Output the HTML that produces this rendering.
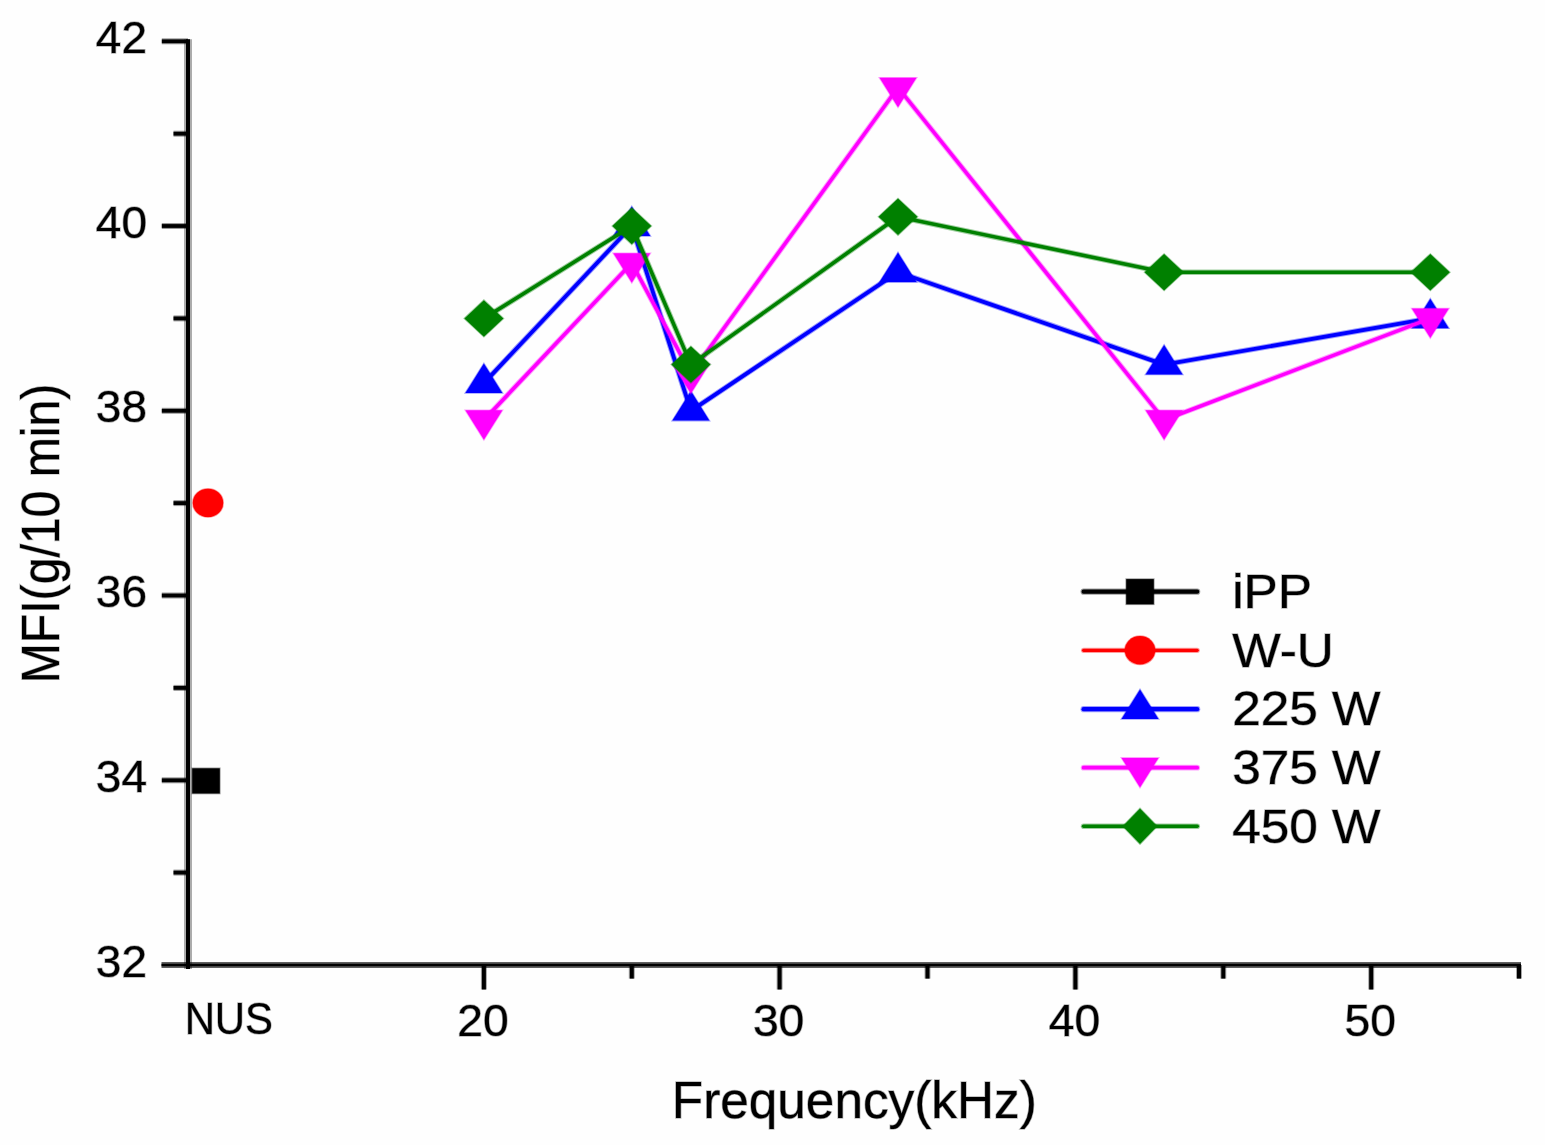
<!DOCTYPE html>
<html><head><meta charset="utf-8"><title>MFI vs Frequency</title>
<style>
html,body{margin:0;padding:0;background:#fefefe;}
body{width:1545px;height:1145px;overflow:hidden;}
svg{display:block;}
text{font-family:"Liberation Sans",Arial,sans-serif;fill:#000;stroke:#000;stroke-opacity:0.3;stroke-width:1.4px;paint-order:stroke;}
.m{stroke-width:1.6px;stroke-opacity:0.38;paint-order:stroke;stroke-linejoin:miter;}
</style></head><body>
<svg width="1545" height="1145" viewBox="0 0 1545 1145">
<rect x="0" y="0" width="1545" height="1145" fill="#fefefe"/>

<polyline points="483.9,383.1 631.8,226.0 690.9,410.8 898.0,272.2 1164.1,364.6 1430.3,318.4" fill="none" stroke="#0000ff" stroke-width="5.8" stroke-opacity="0.38" stroke-linejoin="round"/>
<polyline points="483.9,383.1 631.8,226.0 690.9,410.8 898.0,272.2 1164.1,364.6 1430.3,318.4" fill="none" stroke="#0000ff" stroke-width="3.8" stroke-linejoin="round"/>
<polygon class="m" points="465.4,392.9 502.4,392.9 483.9,363.4" fill="#0000ff" stroke="#0000ff"/>
<polygon class="m" points="613.3,235.9 650.3,235.9 631.8,206.4" fill="#0000ff" stroke="#0000ff"/>
<polygon class="m" points="672.4,420.6 709.4,420.6 690.9,391.1" fill="#0000ff" stroke="#0000ff"/>
<polygon class="m" points="879.5,282.1 916.5,282.1 898.0,252.6" fill="#0000ff" stroke="#0000ff"/>
<polygon class="m" points="1145.6,374.4 1182.6,374.4 1164.1,344.9" fill="#0000ff" stroke="#0000ff"/>
<polygon class="m" points="1411.8,328.2 1448.8,328.2 1430.3,298.7" fill="#0000ff" stroke="#0000ff"/>
<polyline points="483.9,420.0 631.8,263.0 690.9,373.8 898.0,87.5 1164.1,420.0 1430.3,318.4" fill="none" stroke="#ff00ff" stroke-width="5.6" stroke-opacity="0.38" stroke-linejoin="round"/>
<polyline points="483.9,420.0 631.8,263.0 690.9,373.8 898.0,87.5 1164.1,420.0 1430.3,318.4" fill="none" stroke="#ff00ff" stroke-width="3.6" stroke-linejoin="round"/>
<polygon class="m" points="465.4,410.2 502.4,410.2 483.9,439.7" fill="#ff00ff" stroke="#ff00ff"/>
<polygon class="m" points="613.3,253.2 650.3,253.2 631.8,282.7" fill="#ff00ff" stroke="#ff00ff"/>
<polygon class="m" points="672.4,364.0 709.4,364.0 690.9,393.5" fill="#ff00ff" stroke="#ff00ff"/>
<polygon class="m" points="879.5,77.7 916.5,77.7 898.0,107.2" fill="#ff00ff" stroke="#ff00ff"/>
<polygon class="m" points="1145.6,410.2 1182.6,410.2 1164.1,439.7" fill="#ff00ff" stroke="#ff00ff"/>
<polygon class="m" points="1411.8,308.6 1448.8,308.6 1430.3,338.1" fill="#ff00ff" stroke="#ff00ff"/>
<polyline points="483.9,318.4 631.8,226.0 690.9,364.6 898.0,216.8 1164.1,272.2 1430.3,272.2" fill="none" stroke="#008000" stroke-width="5.6" stroke-opacity="0.38" stroke-linejoin="round"/>
<polyline points="483.9,318.4 631.8,226.0 690.9,364.6 898.0,216.8 1164.1,272.2 1430.3,272.2" fill="none" stroke="#008000" stroke-width="3.6" stroke-linejoin="round"/>
<polygon class="m" points="464.4,318.4 483.9,300.2 503.4,318.4 483.9,336.7" fill="#008000" stroke="#008000"/>
<polygon class="m" points="612.3,226.0 631.8,207.8 651.3,226.0 631.8,244.3" fill="#008000" stroke="#008000"/>
<polygon class="m" points="671.4,364.6 690.9,346.3 710.4,364.6 690.9,382.8" fill="#008000" stroke="#008000"/>
<polygon class="m" points="878.5,216.8 898.0,198.6 917.5,216.8 898.0,235.1" fill="#008000" stroke="#008000"/>
<polygon class="m" points="1144.6,272.2 1164.1,254.0 1183.6,272.2 1164.1,290.5" fill="#008000" stroke="#008000"/>
<polygon class="m" points="1410.8,272.2 1430.3,254.0 1449.8,272.2 1430.3,290.5" fill="#008000" stroke="#008000"/>
<rect class="m" x="192.2" y="768.3" width="27.6" height="25.2" fill="#000" stroke="#000"/>
<ellipse class="m" cx="208.0" cy="502.9" rx="15.2" ry="14.2" fill="#ff0000" stroke="#ff0000"/>
<line x1="188.0" y1="39.2" x2="188.0" y2="969.0" stroke="#000" stroke-linecap="butt" stroke-width="8" stroke-opacity="0.32"/><line x1="188.0" y1="39.2" x2="188.0" y2="969.0" stroke="#000" stroke-linecap="butt" stroke-width="4"/>
<line x1="161.5" y1="965.0" x2="1521.0" y2="965.0" stroke="#000" stroke-linecap="butt" stroke-width="6" stroke-opacity="0.62"/><line x1="161.5" y1="965.0" x2="1521.0" y2="965.0" stroke="#000" stroke-linecap="butt" stroke-width="2.4"/>
<line x1="173.5" y1="872.6" x2="188.0" y2="872.6" stroke="#000" stroke-linecap="butt" stroke-width="6.0" stroke-opacity="0.4"/><line x1="173.5" y1="872.6" x2="188.0" y2="872.6" stroke="#000" stroke-linecap="butt" stroke-width="3.8"/>
<line x1="161.8" y1="780.3" x2="188.0" y2="780.3" stroke="#000" stroke-linecap="butt" stroke-width="6.0" stroke-opacity="0.4"/><line x1="161.8" y1="780.3" x2="188.0" y2="780.3" stroke="#000" stroke-linecap="butt" stroke-width="3.8"/>
<line x1="173.5" y1="687.9" x2="188.0" y2="687.9" stroke="#000" stroke-linecap="butt" stroke-width="6.0" stroke-opacity="0.4"/><line x1="173.5" y1="687.9" x2="188.0" y2="687.9" stroke="#000" stroke-linecap="butt" stroke-width="3.8"/>
<line x1="161.8" y1="595.5" x2="188.0" y2="595.5" stroke="#000" stroke-linecap="butt" stroke-width="6.0" stroke-opacity="0.4"/><line x1="161.8" y1="595.5" x2="188.0" y2="595.5" stroke="#000" stroke-linecap="butt" stroke-width="3.8"/>
<line x1="173.5" y1="503.1" x2="188.0" y2="503.1" stroke="#000" stroke-linecap="butt" stroke-width="6.0" stroke-opacity="0.4"/><line x1="173.5" y1="503.1" x2="188.0" y2="503.1" stroke="#000" stroke-linecap="butt" stroke-width="3.8"/>
<line x1="161.8" y1="410.8" x2="188.0" y2="410.8" stroke="#000" stroke-linecap="butt" stroke-width="6.0" stroke-opacity="0.4"/><line x1="161.8" y1="410.8" x2="188.0" y2="410.8" stroke="#000" stroke-linecap="butt" stroke-width="3.8"/>
<line x1="173.5" y1="318.4" x2="188.0" y2="318.4" stroke="#000" stroke-linecap="butt" stroke-width="6.0" stroke-opacity="0.4"/><line x1="173.5" y1="318.4" x2="188.0" y2="318.4" stroke="#000" stroke-linecap="butt" stroke-width="3.8"/>
<line x1="161.8" y1="226.0" x2="188.0" y2="226.0" stroke="#000" stroke-linecap="butt" stroke-width="6.0" stroke-opacity="0.4"/><line x1="161.8" y1="226.0" x2="188.0" y2="226.0" stroke="#000" stroke-linecap="butt" stroke-width="3.8"/>
<line x1="173.5" y1="133.7" x2="188.0" y2="133.7" stroke="#000" stroke-linecap="butt" stroke-width="6.0" stroke-opacity="0.4"/><line x1="173.5" y1="133.7" x2="188.0" y2="133.7" stroke="#000" stroke-linecap="butt" stroke-width="3.8"/>
<line x1="161.8" y1="41.3" x2="188.0" y2="41.3" stroke="#000" stroke-linecap="butt" stroke-width="6.0" stroke-opacity="0.4"/><line x1="161.8" y1="41.3" x2="188.0" y2="41.3" stroke="#000" stroke-linecap="butt" stroke-width="3.8"/>
<line x1="483.9" y1="965.0" x2="483.9" y2="989.5" stroke="#000" stroke-linecap="butt" stroke-width="6" stroke-opacity="0.35"/><line x1="483.9" y1="965.0" x2="483.9" y2="989.5" stroke="#000" stroke-linecap="butt" stroke-width="4"/>
<line x1="631.8" y1="965.0" x2="631.8" y2="978.6" stroke="#000" stroke-linecap="butt" stroke-width="6" stroke-opacity="0.35"/><line x1="631.8" y1="965.0" x2="631.8" y2="978.6" stroke="#000" stroke-linecap="butt" stroke-width="4"/>
<line x1="779.6" y1="965.0" x2="779.6" y2="989.5" stroke="#000" stroke-linecap="butt" stroke-width="6" stroke-opacity="0.35"/><line x1="779.6" y1="965.0" x2="779.6" y2="989.5" stroke="#000" stroke-linecap="butt" stroke-width="4"/>
<line x1="927.5" y1="965.0" x2="927.5" y2="978.6" stroke="#000" stroke-linecap="butt" stroke-width="6" stroke-opacity="0.35"/><line x1="927.5" y1="965.0" x2="927.5" y2="978.6" stroke="#000" stroke-linecap="butt" stroke-width="4"/>
<line x1="1075.4" y1="965.0" x2="1075.4" y2="989.5" stroke="#000" stroke-linecap="butt" stroke-width="6" stroke-opacity="0.35"/><line x1="1075.4" y1="965.0" x2="1075.4" y2="989.5" stroke="#000" stroke-linecap="butt" stroke-width="4"/>
<line x1="1223.3" y1="965.0" x2="1223.3" y2="978.6" stroke="#000" stroke-linecap="butt" stroke-width="6" stroke-opacity="0.35"/><line x1="1223.3" y1="965.0" x2="1223.3" y2="978.6" stroke="#000" stroke-linecap="butt" stroke-width="4"/>
<line x1="1371.2" y1="965.0" x2="1371.2" y2="989.5" stroke="#000" stroke-linecap="butt" stroke-width="6" stroke-opacity="0.35"/><line x1="1371.2" y1="965.0" x2="1371.2" y2="989.5" stroke="#000" stroke-linecap="butt" stroke-width="4"/>
<line x1="1519.0" y1="965.0" x2="1519.0" y2="978.6" stroke="#000" stroke-linecap="butt" stroke-width="6" stroke-opacity="0.35"/><line x1="1519.0" y1="965.0" x2="1519.0" y2="978.6" stroke="#000" stroke-linecap="butt" stroke-width="4"/>
<text transform="translate(147.0,976.6) scale(1.035,1)" font-size="44.5" text-anchor="end">32</text>
<text transform="translate(147.0,791.9) scale(1.035,1)" font-size="44.5" text-anchor="end">34</text>
<text transform="translate(147.0,607.1) scale(1.035,1)" font-size="44.5" text-anchor="end">36</text>
<text transform="translate(147.0,422.4) scale(1.035,1)" font-size="44.5" text-anchor="end">38</text>
<text transform="translate(147.0,237.6) scale(1.035,1)" font-size="44.5" text-anchor="end">40</text>
<text transform="translate(147.0,52.9) scale(1.035,1)" font-size="44.5" text-anchor="end">42</text>
<text transform="translate(482.9,1036.0) scale(1.04,1)" font-size="44.5" text-anchor="middle">20</text>
<text transform="translate(778.6,1036.0) scale(1.04,1)" font-size="44.5" text-anchor="middle">30</text>
<text transform="translate(1074.4,1036.0) scale(1.04,1)" font-size="44.5" text-anchor="middle">40</text>
<text transform="translate(1370.2,1036.0) scale(1.04,1)" font-size="44.5" text-anchor="middle">50</text>
<text transform="translate(228.8,1034.3) scale(0.945,1)" font-size="44.3" text-anchor="middle">NUS</text>
<text transform="translate(854.3,1117.6)" font-size="51.3" text-anchor="middle">Frequency(kHz)</text>
<text transform="translate(58.5,533.5) rotate(-90) scale(0.9,1)" font-size="53.5" text-anchor="middle">MFI(g/10 min)</text>
<line x1="1083.6" y1="591.7" x2="1197.2" y2="591.7" stroke="#000" stroke-linecap="round" stroke-width="6.2" stroke-opacity="0.38"/><line x1="1083.6" y1="591.7" x2="1197.2" y2="591.7" stroke="#000" stroke-linecap="round" stroke-width="4.2"/>
<rect class="m" x="1126.2" y="579.1" width="27.6" height="25.2" fill="#000" stroke="#000"/>
<text transform="translate(1232.2,607.9) scale(1.048,1)" font-size="49" text-anchor="start">iPP</text>
<line x1="1083.6" y1="650.3" x2="1197.2" y2="650.3" stroke="#ff0000" stroke-linecap="round" stroke-width="5.2" stroke-opacity="0.38"/><line x1="1083.6" y1="650.3" x2="1197.2" y2="650.3" stroke="#ff0000" stroke-linecap="round" stroke-width="3.2"/>
<ellipse class="m" cx="1140.0" cy="650.3" rx="15.2" ry="14.2" fill="#ff0000" stroke="#ff0000"/>
<text transform="translate(1232.2,666.5) scale(1.048,1)" font-size="49" text-anchor="start">W-U</text>
<line x1="1083.6" y1="709.2" x2="1197.2" y2="709.2" stroke="#0000ff" stroke-linecap="round" stroke-width="6.2" stroke-opacity="0.38"/><line x1="1083.6" y1="709.2" x2="1197.2" y2="709.2" stroke="#0000ff" stroke-linecap="round" stroke-width="4.2"/>
<polygon class="m" points="1121.5,719.0 1158.5,719.0 1140.0,689.5" fill="#0000ff" stroke="#0000ff"/>
<text transform="translate(1232.2,725.4) scale(1.048,1)" font-size="49" text-anchor="start">225 W</text>
<line x1="1083.6" y1="767.7" x2="1197.2" y2="767.7" stroke="#ff00ff" stroke-linecap="round" stroke-width="5.8" stroke-opacity="0.38"/><line x1="1083.6" y1="767.7" x2="1197.2" y2="767.7" stroke="#ff00ff" stroke-linecap="round" stroke-width="3.8"/>
<polygon class="m" points="1121.5,757.9 1158.5,757.9 1140.0,787.4" fill="#ff00ff" stroke="#ff00ff"/>
<text transform="translate(1232.2,783.9) scale(1.048,1)" font-size="49" text-anchor="start">375 W</text>
<line x1="1083.6" y1="826.3" x2="1197.2" y2="826.3" stroke="#008000" stroke-linecap="round" stroke-width="5.6" stroke-opacity="0.38"/><line x1="1083.6" y1="826.3" x2="1197.2" y2="826.3" stroke="#008000" stroke-linecap="round" stroke-width="3.6"/>
<polygon class="m" points="1122.8,826.3 1140.0,808.5 1157.2,826.3 1140.0,844.0" fill="#008000" stroke="#008000"/>
<text transform="translate(1232.2,842.5) scale(1.048,1)" font-size="49" text-anchor="start">450 W</text>
</svg></body></html>
